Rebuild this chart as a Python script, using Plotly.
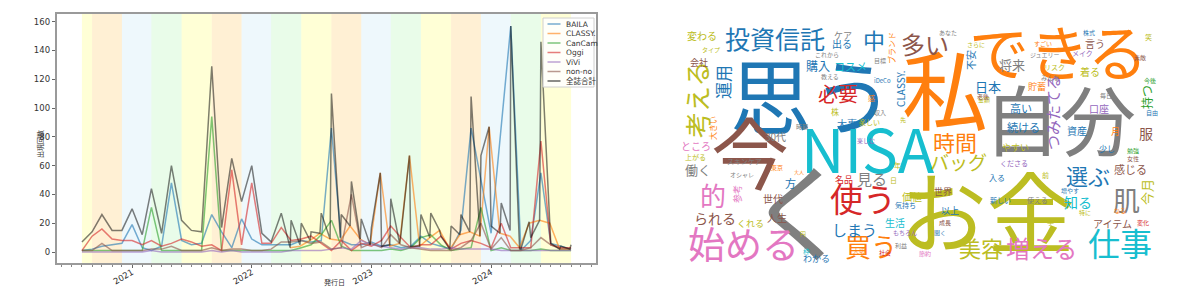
import pandas as pd
import plotly.graph_objects as go

W, H = 1200, 305

# ---------------- time series: monthly mentions per magazine ----------------
months = pd.date_range("2020-08-01", "2024-09-01", freq="MS")

baila = [1, 2, 4, 5, 6,
         19, 3, 1, 4, 48, 8, 5, 6, 26, 14, 3, 23,
         9, 5, 5, 5, 5, 8, 7, 8, 86, 8, 5, 5,
         7, 4, 5, 3, 4, 11, 6, 4, 2, 15, 86, None,
         13, None, 157, 1, 8, 55, 6, 4, 2]
cancam = [1, 1, 1, 1, 1,
          1, 1, 31, 1, 1, 1, 1, 1, 94, 1, 1, 1,
          1, 1, 1, 1, 1, 3, 5, 12, 22, 4, 1, 1,
          1, 1, 2, 1, 3, 10, 12, 5, 1, 2, 3, 31,
          1, 3, 1, 1, 1, 2, 1, 1, 1]
oggi = [1, 11, 16, 9, 8,
        8, 5, 8, 4, 6, 9, 7, 4, 5, 1, 57, 5,
        48, 6, 6, 17, 8, 9, 11, 6, 1, 8, 1, 6,
        4, 8, 18, 10, 3, 5, 5, 11, 2, 6, 8, 6,
        3, 20, 3, 3, 3, 77, 5, 3, 3]
vivi = [0, 0, 0, 0, 0,
        0, 0, 1, 0, 0, 0, 0, 0, 1, 0, 1, 0,
        0, 0, 0, 0, 1, 1, 1, 1, 2, 3, 2, 8,
        5, 4, 3, 2, 3, 3, 2, 2, 3, 2, 2, 2,
        2, 1, 1, 1, 1, 1, 1, 1, 1]
nonno = [1, 1, 6, 1, 1,
         1, 1, 2, 2, 4, 1, 1, 1, 3, 1, 2, 2,
         1, 1, 2, 7, 7, 8, 6, 7, 2, 3, 40, 3,
         6, 3, 12, 5, 3, 2, 1, 1, 1, 3, 8, 20,
         2, 10, 1, 1, 3, 10, 5, 2, 2]

# CLASSY. issues are dated late in the month
classy_dates = ["2022-04-28", "2022-05-28", "2022-06-28", "2022-07-28", "2022-08-28",
                "2022-09-28", "2022-10-28", "2022-11-28", "2022-12-28", "2023-01-28",
                "2023-02-26", "2023-03-28", "2023-04-27", "2023-05-28", "2023-06-28",
                "2023-07-28", "2023-08-28", "2023-09-28", "2023-10-28", "2023-11-28",
                "2023-12-26", "2024-01-28", "2024-02-28", "2024-03-28", "2024-04-26",
                "2024-05-28", "2024-06-28", "2024-07-28", "2024-08-28"]
classy = [3, 4, 8, 13, 9, 8, 18, 9, 5, 55, 4, 6, 67, 4, 10, 15, 2, 12, 14, 11,
          87, 13, 11, 3, 20, 22, 20, 2, 2]

# all-magazine total per issue date
total_monthly = [7, 14, 26, 15, 15,
                 30, 12, 44, 13, 60, 22, 15, 14, 129, 17, 65, 35,
                 60, 13, 7, 27, 22, 20, 14, 27, 110, 26, 49, 23,
                 17, 4, 37, 12, 4, 26, 27, 11, 18, 26, 108, 67,
                 18, 34, 157, 2, 10, 146, 6, 4, 5]
total_late = [3, 5, 8, 13, 9, 10, 18, 9, 5, 55, 5, 6, 67, 4, 10, 15, 2, 12, 14, 11,
              87, 13, 15, 2, 21, 22, 20, 2, 2]

series_names = ["BAILA", "CLASSY.", "CanCam", "Oggi", "ViVi", "non-no", "全誌合計"]
series_colors = ["#1f77b4", "#ff7f0e", "#2ca02c", "#d62728", "#9467bd", "#8c564b", "#000000"]

total = pd.concat([
    pd.Series(total_monthly, index=months),
    pd.Series(total_late, index=pd.to_datetime(classy_dates)),
]).sort_index()

fig = go.Figure()
plot_data = [
    (months, baila), (pd.to_datetime(classy_dates), classy), (months, cancam),
    (months, oggi), (months, vivi), (months, nonno), (total.index, total.values),
]
for (xs, ys), name, col in zip(plot_data, series_names, series_colors):
    fig.add_trace(go.Scatter(
        x=xs, y=ys, name=name, mode="lines", connectgaps=True,
        line=dict(color=col, width=1.5), opacity=0.6 if name != "全誌合計" else 0.5,
        showlegend=False, xaxis="x", yaxis="y",
    ))

# ---------------- seasonal background bands ----------------
season_fill = {
    "summer": "rgba(255,255,0,0.16)",
    "autumn": "rgba(255,165,0,0.17)",
    "winter": "rgba(135,206,235,0.14)",
    "spring": "rgba(144,238,144,0.20)",
}
def season_of(ts):
    m = ts.month
    if m in (6, 7, 8):
        return "summer"
    if m in (9, 10, 11):
        return "autumn"
    if m in (12, 1, 2):
        return "winter"
    return "spring"

shapes = []
band_start = months[0]
band_season = season_of(months[0])
for ts in list(months[1:]):
    s = season_of(ts)
    if s != band_season or ts == months[-1]:
        shapes.append(dict(type="rect", xref="x", yref="y domain", x0=band_start, x1=ts,
                           y0=0, y1=1, fillcolor=season_fill[band_season],
                           line=dict(width=0), layer="below"))
        band_start, band_season = ts, s

# ---------------- legend box (drawn in paper space) ----------------
def px(xp):
    return xp / W
def py(yp):
    return 1 - yp / H

annotations = []
shapes.append(dict(type="rect", xref="paper", yref="paper",
                   x0=px(543), x1=px(594), y0=py(87), y1=py(18),
                   fillcolor="rgba(255,255,255,0.85)", line=dict(color="#d0d0d0", width=1)))
for i, (name, col) in enumerate(zip(series_names, series_colors)):
    yy = 24 + i * 9.5
    shapes.append(dict(type="line", xref="paper", yref="paper",
                       x0=px(547.5), x1=px(560.5), y0=py(yy), y1=py(yy),
                       line=dict(color=col, width=1.5), opacity=0.6))
    annotations.append(dict(xref="paper", yref="paper", x=px(563.5), y=py(yy), text=name,
                            showarrow=False, xanchor="left", yanchor="middle",
                            font=dict(size=7.5, color="#333",
                                      family="DejaVu Sans, Noto Sans CJK JP")))

# axis titles
annotations.append(dict(xref="paper", yref="paper", x=px(33), y=py(144), text="出現回数",
                        textangle=-90, showarrow=False,
                        font=dict(size=7, color="#333", family="Noto Sans CJK JP")))
annotations.append(dict(xref="paper", yref="paper", x=px(322), y=py(289), text="発行日",
                        showarrow=False,
                        font=dict(size=7, color="#333", family="Noto Sans CJK JP")))

# ---------------- word cloud ----------------
words = ["思う", "私", "できる", "自分", "NISA", "今", "く", "お金", "使う", "買う",
         "始める", "的", "投資信託", "多い", "中", "考える", "運用", "必要", "時間", "仕事",
         "増える", "美容", "選ぶ", "肌", "バッグ", "見る", "しまう", "つみたてる", "将来", "日本",
         "持つ", "服", "られる", "働く", "知る", "購入", "コスメ", "今月", "感じる", "アイテム",
         "高い", "続ける", "口座", "資産", "着る", "言う", "30代", "世代", "人生", "方",
         "価値", "生活", "変わる", "出る", "ケア", "大事", "ところ", "会社", "CLASSY.", "ブランド",
         "名品", "くれる", "わかる", "やすい", "世界", "以上", "月", "少し", "入る", "貯蓄",
         "不安", "株", "楽しい", "大きい", "感", "参考", "上がる", "枠", "日", "年",
         "タイプ", "東京", "スキンケア", "オシャレ", "気持ち", "メイク", "リスク", "ジュエリー", "株式", "笑",
         "毎日", "勉強", "女性", "くださる", "新しい", "使える", "前", "手", "増やす", "成長",
         "もちろん", "円", "大人", "これから", "教える", "iDeCo", "収入", "時期", "目標", "先",
         "楽しむ", "すごい", "みんな", "さらに", "あなた", "金額", "今後", "聞く", "なる", "特に",
         "変化", "社会", "利益", "大切", "節約", "素敵", "自由", "老後"]
# relative frequency expressed as display weight
weights = [82, 86, 60, 76, 60, 78, 106, 88, 33, 26,
           37, 26, 25, 24, 22, 26, 17, 20, 22, 32,
           24, 22, 22, 27, 19, 15, 15, 15, 13, 13,
           12, 14, 14, 13, 14, 12, 11, 13, 11, 10,
           11, 11, 10, 10, 10, 10, 10, 10, 10, 11,
           10, 10, 10, 10, 9, 10, 10, 9, 10, 8,
           9, 9, 9, 9, 9, 9, 9, 8, 8, 9,
           10, 8, 7, 8, 7, 9, 7, 7, 7, 7,
           6, 6, 7, 6, 7, 7, 7, 6, 6, 7,
           6, 6, 6, 7, 7, 7, 7, 7, 6, 6,
           6, 6, 5, 6, 6, 6, 6, 6, 6, 6,
           6, 6, 6, 6, 6, 6, 6, 6, 6, 6,
           6, 6, 6, 6, 6, 6, 6, 6]

palette = {"b": "#1f77b4", "o": "#ff7f0e", "g": "#2ca02c", "r": "#d62728", "p": "#9467bd",
           "n": "#8c564b", "k": "#e377c2", "y": "#7f7f7f", "l": "#bcbd22", "c": "#17becf"}
# layout of each word: centre x, centre y (pixels), rotation, colour key
placement = [
    (812, 92, 0, "b"), (945, 86, 0, "o"), (1058, 50, 0, "o"), (1060, 117, 0, "y"),
    (868, 146, 0, "c"), (750, 150, 0, "n"), (800, 207, 0, "y"), (987, 207, 0, "l"),
    (863, 198, 0, "r"), (871, 245, 0, "o"),
    (743, 243, 0, "k"), (713, 194, 0, "k"), (775, 38, 0, "b"), (925, 44, 0, "n"),
    (874, 39, 0, "b"), (697, 100, -90, "l"), (722, 82, -90, "b"), (838, 93, 0, "r"),
    (955, 141, 0, "o"), (1120, 242, 0, "c"),
    (1041, 247, 0, "k"), (981, 247, 0, "l"), (1088, 175, 0, "b"), (1126, 200, 0, "y"),
    (958, 162, 0, "l"), (872, 178, 0, "y"), (854, 230, 0, "b"), (1052, 113, -90, "p"),
    (1012, 64, 0, "y"), (988, 86, 0, "b"),
    (1146, 97, -90, "g"), (1146, 133, 0, "n"), (715, 218, 0, "n"), (698, 170, 0, "y"),
    (1078, 202, 0, "c"), (818, 66, 0, "b"), (851, 66, 0, "c"), (1146, 192, -90, "l"),
    (1130, 169, 0, "n"), (1112, 223, 0, "n"),
    (1021, 108, 0, "b"), (1023, 127, 0, "b"), (1099, 108, 0, "p"), (1077, 130, 0, "b"),
    (1090, 72, 0, "l"), (1095, 43, 0, "n"), (776, 136, 0, "y"), (773, 198, 0, "n"),
    (777, 217, 0, "n"), (790, 183, 0, "b"),
    (912, 196, 0, "l"), (895, 222, 0, "c"), (702, 36, 0, "l"), (842, 44, 0, "b"),
    (843, 35, 0, "y"), (847, 123, 0, "b"), (696, 145, 0, "k"), (699, 62, 0, "n"),
    (901, 89, -90, "b"), (891, 48, -90, "o"),
    (844, 179, 0, "r"), (750, 223, 0, "l"), (816, 258, 0, "b"), (1015, 147, 0, "l"),
    (943, 191, 0, "n"), (950, 210, 0, "b"), (1115, 132, 0, "o"), (1107, 149, 0, "b"),
    (997, 177, 0, "b"), (1037, 86, 0, "o"),
    (970, 60, -90, "b"), (835, 111, 0, "l"), (869, 122, 0, "l"), (712, 128, -90, "o"),
    (871, 98, 0, "o"), (737, 194, -90, "k"), (695, 157, 0, "l"), (806, 251, 0, "c"),
    (893, 180, 0, "l"), (897, 165, 0, "l"),
    (711, 50, 0, "l"), (777, 167, 0, "o"), (744, 161, 0, "y"), (742, 174, 0, "y"),
    (905, 205, 0, "b"), (1082, 53, 0, "p"), (1054, 67, 0, "l"), (1045, 54, 0, "y"),
    (1089, 33, 0, "b"), (1148, 37, 0, "l"),
    (1106, 95, 0, "y"), (1133, 150, 0, "g"), (1133, 158, 0, "n"), (1014, 163, 0, "p"),
    (1000, 200, 0, "b"), (1037, 200, 0, "y"), (1045, 175, 0, "l"), (1050, 222, 0, "l"),
    (1070, 190, 0, "b"), (945, 222, 0, "n"),
    (905, 232, 0, "p"), (803, 233, 0, "l"), (799, 172, 0, "o"), (827, 55, 0, "y"),
    (830, 76, 0, "y"), (882, 80, 0, "b"), (880, 112, 0, "y"), (802, 127, 0, "y"),
    (880, 60, 0, "y"), (903, 119, 0, "l"),
    (866, 140, 0, "p"), (1043, 43, 0, "o"), (1050, 78, 0, "y"), (976, 45, 0, "l"),
    (948, 33, 0, "y"), (984, 100, 0, "l"), (1150, 80, 0, "g"), (940, 232, 0, "b"),
    (1120, 210, 0, "o"), (1085, 212, 0, "l"),
    (1143, 222, 0, "r"), (885, 252, 0, "r"), (901, 245, 0, "y"), (859, 250, 0, "o"),
    (925, 253, 0, "k"), (1140, 58, 0, "n"), (1152, 112, 0, "b"), (983, 96, 0, "n"),
]

for w, wt, (cx, cy, ang, ck) in zip(words, weights, placement):
    annotations.append(dict(
        xref="paper", yref="paper", x=px(cx), y=py(cy), text=w, textangle=ang,
        showarrow=False, xanchor="center", yanchor="middle",
        font=dict(size=wt, color=palette[ck], family="Noto Sans CJK JP"),
    ))

axis_font = dict(size=8.5, color="#333", family="DejaVu Sans")
fig.update_layout(
    width=W, height=H, margin=dict(l=0, r=0, t=0, b=0),
    paper_bgcolor="white", plot_bgcolor="white",
    shapes=shapes, annotations=annotations, showlegend=False,
    xaxis=dict(
        domain=[57 / W, 596 / W], type="date", range=["2020-05-17", "2024-11-16"],
        showgrid=False, zeroline=False, showline=True, mirror=True,
        linecolor="#9a9a9a", linewidth=1.5,
        ticks="outside", ticklen=3.5, tickcolor="#666", tickwidth=0.8,
        tick0="2021-01-01", dtick="M12", tickformat="%Y", tickangle=-30,
        tickfont=axis_font, ticklabelstandoff=-4,
        minor=dict(ticks="outside", ticklen=2, tickcolor="#888", dtick="M1",
                   tick0="2020-01-01", showgrid=False),
    ),
    yaxis=dict(
        domain=[1 - 263 / H, 1 - 14 / H], range=[-7.64, 165.3],
        showgrid=False, zeroline=False, showline=True, mirror=True,
        linecolor="#9a9a9a", linewidth=1.5,
        ticks="outside", ticklen=3.5, tickcolor="#666", tickwidth=0.8,
        tickvals=[0, 20, 40, 60, 80, 100, 120, 140, 160], tickfont=axis_font,
    ),
)

fig.write_html("out.html")
